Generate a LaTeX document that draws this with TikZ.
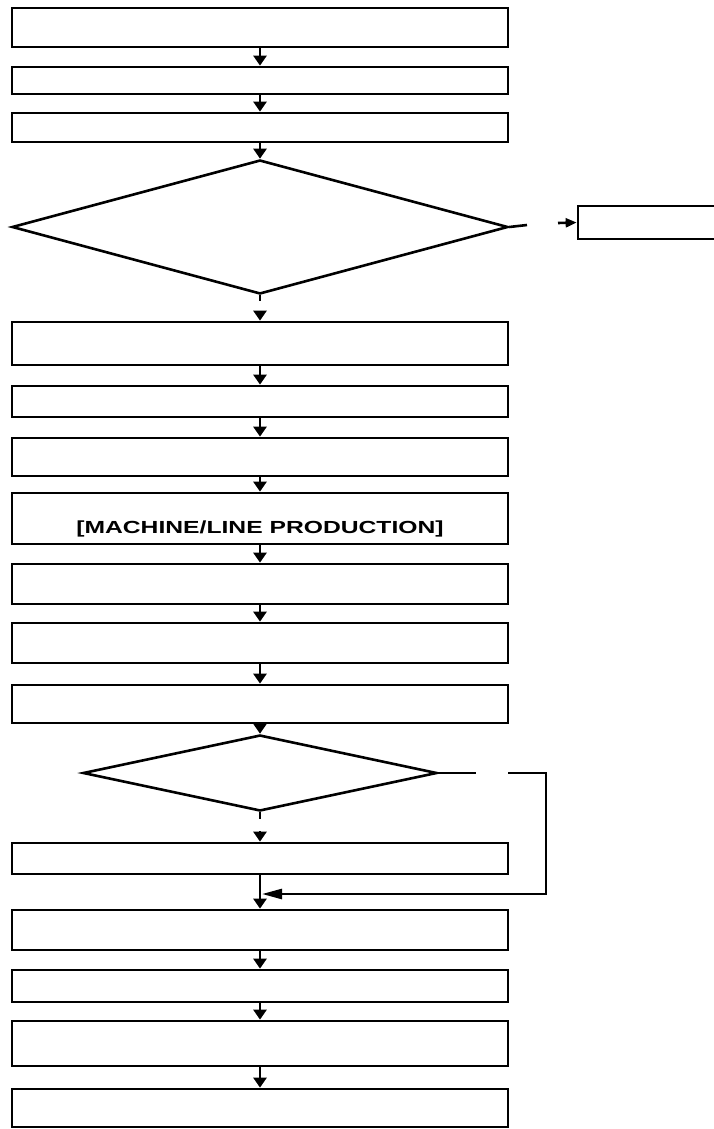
\documentclass[tikz,border=0pt]{standalone}
\usepackage{fontspec}
\setmainfont{Liberation Sans}
\usetikzlibrary{shapes.geometric,arrows.meta}

\begin{document}
\begin{tikzpicture}[x=1pt,y=-1pt,
        stepbox/.style={draw,line width=2.7pt,minimum width=496pt,inner sep=0pt},
        decision/.style={draw,diamond,line width=2.6pt,inner sep=0pt},
        flow/.style={line width=2.6pt,-{Triangle[length=10pt,width=13pt]}},
        link/.style={line width=2.6pt}]
            % Page
            \useasboundingbox (0,0) rectangle (714,1129);
            \clip (0,0) rectangle (714,1129);

            % Main column
            \node[stepbox,minimum height=39pt] (b1) at (260,27.5) {};
            \node[stepbox,minimum height=27pt] (b2) at (260,80.5) {};
            \node[stepbox,minimum height=29pt] (b3) at (260,127.5) {};
            \node[decision,minimum width=496pt,minimum height=134pt] (d1) at (260,227) {};
            \node[stepbox,minimum width=150pt,minimum height=33pt] (side) at (653,222.5) {};
            \node[stepbox,minimum height=43pt] (b4) at (260,343.5) {};
            \node[stepbox,minimum height=31pt] (b5) at (260,401.5) {};
            \node[stepbox,minimum height=38pt] (b6) at (260,457) {};
            \node[stepbox,minimum height=51pt] (b7) at (260,518.5) {};
            \node[font=\bfseries\fontsize{17.5}{18}\selectfont] (b7text) at ([yshift=-10.5pt]b7.center)
                {\scalebox{1.41}[1]{[MACHINE/LINE PRODUCTION]}};
            \node[stepbox,minimum height=40pt] (b8) at (260,584) {};
            \node[stepbox,minimum height=40pt] (b9) at (260,643) {};
            \node[stepbox,minimum height=38pt] (b10) at (260,704) {};
            \node[decision,minimum width=354pt,minimum height=76pt] (d2) at (260,773) {};
            \node[stepbox,minimum height=31pt] (b11) at (260,858.5) {};
            \node[stepbox,minimum height=40pt] (b12) at (260,930) {};
            \node[stepbox,minimum height=32pt] (b13) at (260,986) {};
            \node[stepbox,minimum height=45pt] (b14) at (260,1043.5) {};
            \node[stepbox,minimum height=38pt] (b15) at (260,1108) {};

            % Loose ends
            \coordinate (d1stub) at (260,301);
            \coordinate (d1gap) at (260,312);
            \coordinate (d1out) at (527,225);
            \coordinate (d1in) at (558,223);
            \coordinate (d2stub) at (260,819);
            \coordinate (d2gap) at (260,831);
            \coordinate (d2out) at (476,773);
            \coordinate (d2in) at (508,773);
            \coordinate (loopne) at (546,773);
            \coordinate (loopse) at (546,894);
            \coordinate (merge) at (262,894);

            % Arrows
            \foreach \a/\b in {b1/b2, b2/b3, b3/d1, b4/b5, b5/b6, b6/b7, b7/b8, b8/b9,
                b9/b10, b10/d2, b11/b12, b12/b13, b13/b14, b14/b15}{
            \draw[flow] (\a) -- (\b);
            }
            \draw[link] (d1.south) -- (d1stub);
            \draw[flow] (d1gap) -- (b4.north);
            \draw[link] (d1.east) -- (d1out);
            \draw[line width=2.6pt,-{Triangle[length=11pt,width=9pt]}] (d1in) -- (side.west);
            \draw[link] (d2.south) -- (d2stub);
            \draw[flow] (d2gap) -- (b11.north);
            \draw[link] (d2.east) -- (d2out);
            \draw[line width=2.6pt,-{Triangle[length=20pt,width=10pt]}] (d2in) -- (loopne) -- (loopse) -- (merge);

            \end{tikzpicture}
\end{document}
